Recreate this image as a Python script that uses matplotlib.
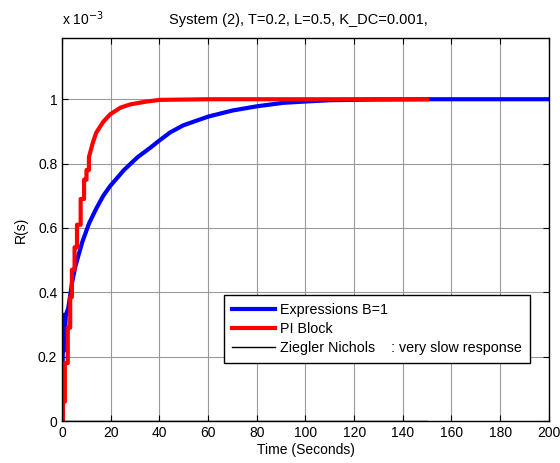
import matplotlib
matplotlib.use('Agg')
import matplotlib.pyplot as plt

plt.rcParams['font.family'] = ['Liberation Sans', 'DejaVu Sans']

# values of R(s) in units of 1e-3
# Expressions B=1
expr_t = [0, 0.4, 1.0, 1.5, 2.5, 4, 5.4, 8.3, 11.1, 14, 16.9, 19.7, 25.4, 31, 36,
          40, 44.4, 49.8, 60, 70, 80, 91, 100, 110, 127, 150, 200]
expr_r = [0, 0.33, 0.22, 0.33, 0.35, 0.427, 0.48, 0.557, 0.615, 0.66, 0.70, 0.73, 0.78,
          0.82, 0.848, 0.872, 0.897, 0.919, 0.946, 0.965, 0.978, 0.989, 0.993, 0.997,
          0.999, 1.0, 1.0]

# PI Block (stepped at the start, smooth later)
pi_t = [0, 0.3, 0.3, 1.1, 1.1, 2.3, 2.3, 3.3, 3.3, 4.0, 4.0, 5.1, 5.1, 6.1, 6.1,
        7.6, 7.6, 9, 9, 10, 10, 11, 11, 12.6, 14, 16.9, 19.7, 24, 28, 34, 40, 60, 150]
pi_r = [0, 0, 0.06, 0.06, 0.18, 0.18, 0.29, 0.29, 0.385, 0.385, 0.47, 0.47, 0.54,
        0.54, 0.61, 0.61, 0.69, 0.69, 0.75, 0.75, 0.78, 0.78, 0.82, 0.865, 0.896,
        0.93, 0.953, 0.974, 0.984, 0.992, 0.998, 1.0, 1.0]

# Ziegler Nichols
zn_t = [0, 150]
zn_r = [0, 0]

fig = plt.figure(figsize=(5.6, 4.63), dpi=100)
ax = fig.add_axes([0.111, 0.0907, 0.869, 0.827])

ax.plot(expr_t, expr_r, color='blue', linewidth=3, label='Expressions B=1')
ax.plot(pi_t, pi_r, color='red', linewidth=3, label='PI Block')
ax.plot(zn_t, zn_r, color='black', linewidth=1, label='Ziegler Nichols    : very slow response')

ax.set_xlim(0, 200)
ax.set_ylim(0, 1.19)
ax.set_xticks(range(0, 201, 20))
ax.set_yticks([0, 0.2, 0.4, 0.6, 0.8, 1])
ax.set_yticklabels(['0', '0.2', '0.4', '0.6', '0.8', '1'])
ax.tick_params(direction='in', length=4, top=True, right=True, labelsize=10)
ax.grid(True, color='#999999', linewidth=0.8)
for s in ax.spines.values():
    s.set_linewidth(1)

ax.set_title('System (2), T=0.2, L=0.5, K_DC=0.001,', fontsize=10.5, pad=10, x=0.486)
ax.set_xlabel('Time (Seconds)', fontsize=10, labelpad=2)
ax.set_ylabel('R(s)', fontsize=10, labelpad=7)
fig.text(0.111, 0.945, r'x 10$^{-3}$', fontsize=10)

leg = ax.legend(loc='lower right', bbox_to_anchor=(0.961, 0.151), fontsize=10.3,
                fancybox=False, framealpha=1, edgecolor='black', handlelength=3.0,
                handletextpad=0.35, borderpad=0.55, labelspacing=0.35, borderaxespad=0)
leg.get_frame().set_linewidth(1)

plt.savefig('out.png', dpi=100)
